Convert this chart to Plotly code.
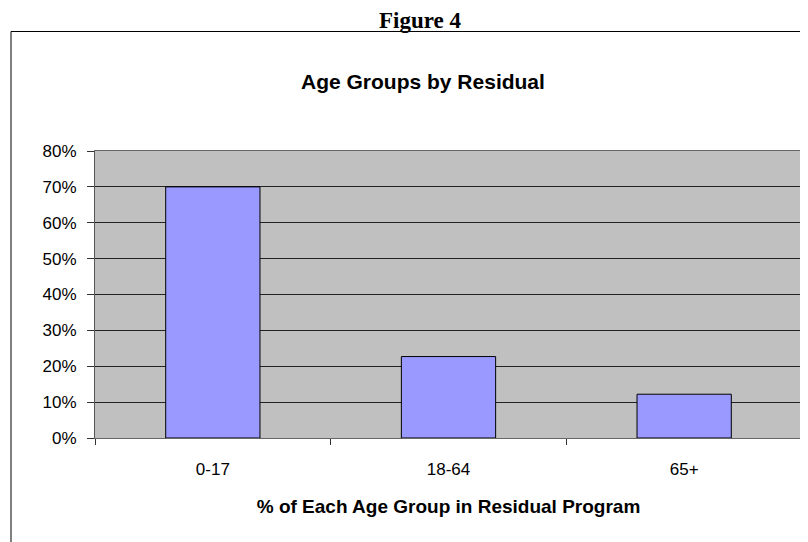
import plotly.graph_objects as go

categories = ["0-17", "18-64", "65+"]
values = [0.70, 0.227, 0.122]
y_ticks = [0, 0.1, 0.2, 0.3, 0.4, 0.5, 0.6, 0.7, 0.8]
y_tick_labels = ["0%", "10%", "20%", "30%", "40%", "50%", "60%", "70%", "80%"]

# page has an 8px body margin, so the figure is 8px smaller and coordinates are shifted
OFF = 8
W, H = 808 - OFF, 542 - OFF
L, R, T, B = 87, 6, 143, 104
pw, ph = W - L - R, H - T - B

def px_x(x):
    return (x - OFF - L) / pw

def px_y(y):
    return (H - B - (y - OFF)) / ph

fig = go.Figure()
fig.add_trace(go.Bar(
    x=categories, y=values,
    marker=dict(color="#9999FF", line=dict(color="#000000", width=1)),
    width=0.4,
))

fig.update_layout(
    width=W, height=H,
    margin=dict(l=L, r=R, t=T, b=B),
    paper_bgcolor="white",
    plot_bgcolor="#C0C0C0",
    showlegend=False,
    font=dict(family="Liberation Sans, Arial", color="black"),
    xaxis=dict(
        type="category",
        tickson="boundaries",
        ticks="outside", ticklen=6, tickcolor="#333",
        showline=True, linecolor="#666", linewidth=1, mirror=True,
        tickfont=dict(size=17, family="Liberation Sans, Arial"),
        ticklabelstandoff=16,
        title=dict(text="<b>% of Each Age Group in Residual Program</b>",
                   font=dict(size=19, family="Liberation Sans, Arial"), standoff=21),
        showgrid=False,
    ),
    yaxis=dict(
        range=[0, 0.8],
        tickvals=y_ticks, ticktext=y_tick_labels,
        ticks="outside", ticklen=7, tickcolor="#333",
        showline=True, linecolor="#555", linewidth=1, mirror=True,
        showgrid=True, gridcolor="#222", gridwidth=1,
        tickfont=dict(size=17, family="Liberation Sans, Arial"),
        ticklabelstandoff=7,
        zeroline=False,
    ),
)

# outer chart border
fig.add_shape(type="rect", xref="paper", yref="paper",
              x0=px_x(11), x1=px_x(840), y0=px_y(580), y1=px_y(31.5),
              line=dict(color="black", width=1), layer="below")

fig.add_annotation(text="<b>Figure 4</b>", xref="paper", yref="paper",
                   x=px_x(420), y=px_y(21), showarrow=False,
                   xanchor="center", yanchor="middle",
                   font=dict(family="Liberation Serif, Times New Roman", size=23, color="black"))
fig.add_annotation(text="<b>Age Groups by Residual</b>", xref="paper", yref="paper",
                   x=px_x(423), y=px_y(81), showarrow=False,
                   xanchor="center", yanchor="middle",
                   font=dict(family="Liberation Sans, Arial", size=21, color="black"))

fig.write_html("out.html")
